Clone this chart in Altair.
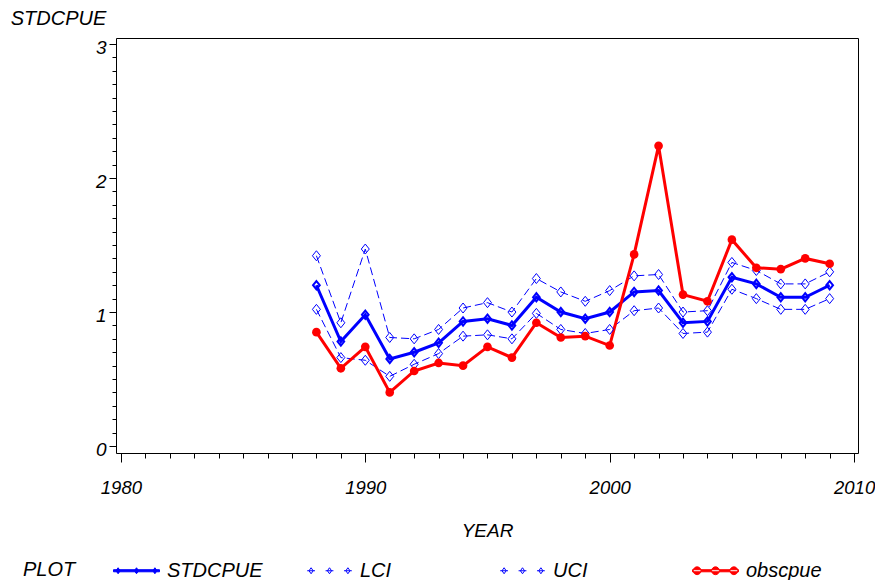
import altair as alt
import pandas as pd

years = list(range(1988, 2010))
stdcpue = [1.20, 0.78, 0.98, 0.65, 0.70, 0.77, 0.93, 0.95, 0.90, 1.11, 1.00,
           0.95, 1.00, 1.15, 1.16, 0.92, 0.93, 1.26, 1.21, 1.11, 1.11, 1.20]
lci = [1.02, 0.66, 0.64, 0.52, 0.61, 0.69, 0.82, 0.83, 0.80, 0.99, 0.87,
       0.84, 0.87, 1.01, 1.03, 0.84, 0.85, 1.17, 1.10, 1.02, 1.02, 1.10]
uci = [1.42, 0.92, 1.47, 0.81, 0.80, 0.87, 1.03, 1.07, 1.00, 1.25, 1.15,
       1.08, 1.16, 1.27, 1.28, 1.00, 1.01, 1.37, 1.31, 1.21, 1.21, 1.30]
obscpue = [0.85, 0.58, 0.74, 0.40, 0.56, 0.62, 0.60, 0.74, 0.66, 0.92, 0.81,
           0.82, 0.75, 1.43, 2.24, 1.13, 1.08, 1.54, 1.33, 1.32, 1.40, 1.36]

series_names = ["STDCPUE", "LCI", "UCI", "obscpue"]
x_tick_values = list(range(1980, 2011))
y_tick_values = [round(i * 0.1, 1) for i in range(31)]

rows = []
for name, vals in zip(series_names, [stdcpue, lci, uci, obscpue]):
    for yr, v in zip(years, vals):
        rows.append({"YEAR": yr, "value": v, "series": name})
df = pd.DataFrame(rows)

BLUE = "#0000ff"
RED = "#ff0000"
FONT = "Liberation Sans"

x_enc = alt.X(
    "YEAR:Q",
    scale=alt.Scale(domain=[1979.8, 2010.16], nice=False, zero=False),
    axis=alt.Axis(
        values=x_tick_values,
        format="d",
        labelExpr="datum.value % 10 === 0 ? datum.label : ''",
        tickSize={"condition": {"test": "datum.value % 10 === 0", "value": 9}, "value": 5},
        labelPadding=16,
        labelFontSize=18.5,
        labelOverlap=False,
        labelFlush=False,
        labelBound=False,
        title="YEAR",
        titleBaseline="alphabetic",
        titleY=83,
    ),
)
y_enc = alt.Y(
    "value:Q",
    scale=alt.Scale(domain=[-0.052, 3.045], nice=False, zero=False),
    axis=alt.Axis(
        values=y_tick_values,
        labelExpr="abs(datum.value - round(datum.value)) < 0.001 ? toString(round(datum.value)) : ''",
        tickSize={"condition": {"test": "abs(datum.value - round(datum.value)) < 0.001", "value": 7}, "value": 4},
        labelPadding=3,
        labelOffset=3,
        labelOverlap=False,
        labelFlush=False,
        labelBound=False,
        title="STDCPUE",
        titleAngle=0,
        titleAlign="center",
        titleBaseline="alphabetic",
        titleX=-58,
        titleY=-14,
        titleFontSize=20,
    ),
)

# legend symbol paths (unit box)
bar = "M-1,-0.045H1V0.045H-1Z"
diamonds = ("M-0.8,-0.13L-0.71,0L-0.8,0.13L-0.89,0Z"
            "M0,-0.13L0.09,0L0,0.13L-0.09,0Z"
            "M0.8,-0.13L0.89,0L0.8,0.13L0.71,0Z")
dash_path = "M-0.97,0H-0.63M-0.17,0H0.17M0.63,0H0.97"
circles = ("M-0.63,0A0.17,0.17,0,1,0,-0.97,0A0.17,0.17,0,1,0,-0.63,0Z"
           "M0.17,0A0.17,0.17,0,1,0,-0.17,0A0.17,0.17,0,1,0,0.17,0Z"
           "M0.97,0A0.17,0.17,0,1,0,0.63,0A0.17,0.17,0,1,0,0.97,0Z")
legend_shapes = [bar + diamonds, dash_path + diamonds, dash_path + diamonds, bar + circles]


def make_legend():
    return alt.Legend(
        title="PLOT",
        orient="none",
        legendX=-93,
        legendY=509,
        direction="horizontal",
        columns=4,
        gridAlign="all",
        columnPadding=41,
        titleOrient="left",
        titleAnchor="middle",
        titlePadding=37,
        titleBaseline="line-top",
        titleLineHeight=12,
        titleFontSize=20,
        titleFont=FONT,
        titleFontStyle="italic",
        titleFontWeight="normal",
        titleColor="black",
        labelFontSize=20,
        labelFont=FONT,
        labelFontStyle="italic",
        labelColor="black",
        labelOffset=7,
        symbolSize=2116,
        symbolStrokeWidth=1,
        symbolOpacity=1,
        padding=0,
    )


base = alt.Chart(df)

open_diamond = "M-0.8,0L0,-1L0.8,0L0,1Z"

ci_lines = base.transform_filter(
    alt.FieldOneOfPredicate(field="series", oneOf=["LCI", "UCI"])
).mark_line(color=BLUE, strokeWidth=1, strokeDash=[8, 4]).encode(
    x=x_enc, y=y_enc, detail="series:N"
)
std_line = base.transform_filter(
    alt.FieldEqualPredicate(field="series", equal="STDCPUE")
).mark_line(color=BLUE, strokeWidth=3).encode(x=x_enc, y=y_enc)
obs_line = base.transform_filter(
    alt.FieldEqualPredicate(field="series", equal="obscpue")
).mark_line(color=RED, strokeWidth=3).encode(x=x_enc, y=y_enc)

ci_points = base.transform_filter(
    alt.FieldOneOfPredicate(field="series", oneOf=["LCI", "UCI"])
).mark_point(shape=open_diamond, size=100, filled=False, color=BLUE, strokeWidth=1, opacity=1).encode(
    x=x_enc, y=y_enc
)
std_points = base.transform_filter(
    alt.FieldEqualPredicate(field="series", equal="STDCPUE")
).mark_point(shape=open_diamond, size=70, filled=False, color=BLUE, strokeWidth=2, opacity=1).encode(
    x=x_enc, y=y_enc
)
obs_points = base.transform_filter(
    alt.FieldEqualPredicate(field="series", equal="obscpue")
).mark_point(shape="circle", size=75, filled=True, color=RED, opacity=1).encode(
    x=x_enc, y=y_enc
)

# legend-only layer: no rows survive the filter, the legend comes from the explicit scale domains
legend_layer = base.transform_filter("false").mark_point(filled=True, size=2116, opacity=1, strokeWidth=1).encode(
    x=x_enc,
    y=y_enc,
    shape=alt.Shape("series:N", scale=alt.Scale(domain=series_names, range=legend_shapes), legend=make_legend()),
    fill=alt.Fill("series:N", scale=alt.Scale(domain=series_names, range=[BLUE, "transparent", "transparent", RED]), legend=make_legend()),
    stroke=alt.Stroke("series:N", scale=alt.Scale(domain=series_names, range=[BLUE, BLUE, BLUE, RED]), legend=make_legend()),
)

chart = alt.layer(ci_lines, std_line, obs_line, ci_points, std_points, obs_points, legend_layer).properties(
    width=742,
    height=415,
    autosize=alt.AutoSizeParams(type="none"),
    padding={"left": 108, "top": 30, "right": 17, "bottom": 127},
    background="white",
).configure_view(
    stroke="black", strokeWidth=1
).configure_axis(
    domain=False,
    grid=False,
    tickColor="black",
    tickWidth=1,
    labelFont=FONT,
    labelFontSize=19,
    labelFontStyle="italic",
    labelColor="black",
    titleFont=FONT,
    titleFontSize=19,
    titleFontStyle="italic",
    titleFontWeight="normal",
    titleColor="black",
)

chart.save("out.html", embed_options={"renderer": "svg", "actions": False})
